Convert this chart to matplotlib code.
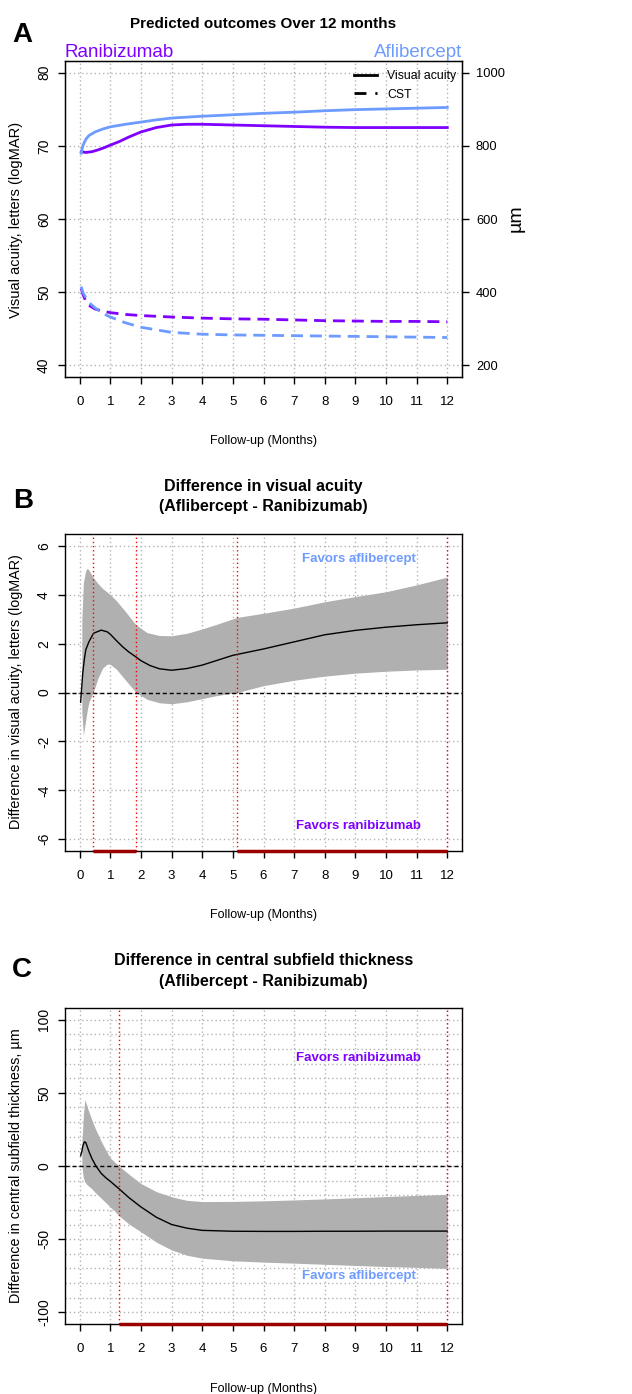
import matplotlib
matplotlib.use("Agg")
import matplotlib.pyplot as plt
from matplotlib.lines import Line2D

plt.rcParams['font.family'] = ['Liberation Sans', 'DejaVu Sans']
plt.rcParams['axes.unicode_minus'] = False

W, H = 632, 1394
PURPLE = '#7F00FF'
BLUE = '#6E9BFF'
GRID = '#B4B4B4'
BAND = '#B0B0B0'

# ---- panel A: predicted outcomes ----
t_rani_va = [0.05, 0.2, 0.4, 0.6, 0.8, 1.0, 1.3, 1.6, 2.0, 2.5, 3.0, 3.5, 4.0, 5, 6, 7, 8, 9, 10, 11, 12]
rani_va = [69.2, 69.1, 69.2, 69.45, 69.75, 70.1, 70.6, 71.2, 71.9, 72.5, 72.85, 72.95, 72.95, 72.85,
           72.75, 72.65, 72.55, 72.5, 72.5, 72.5, 72.5]
t_afli_va = [0.05, 0.1, 0.2, 0.3, 0.5, 0.75, 1.0, 1.5, 2, 2.5, 3, 4, 5, 6, 7, 8, 9, 10, 11, 12]
afli_va = [69.0, 70.0, 70.9, 71.4, 71.9, 72.3, 72.6, 72.95, 73.25, 73.55, 73.8, 74.05, 74.25,
           74.45, 74.6, 74.8, 74.95, 75.05, 75.15, 75.25]
t_cst = [0.05, 0.1, 0.2, 0.3, 0.5, 0.75, 1, 1.5, 2, 3, 4, 5, 6, 7, 8, 9, 10, 11, 12]
rani_cst = [410, 395, 375, 364, 354, 348, 344, 339, 336, 332, 329, 327, 326, 324, 322, 321, 320, 320, 319]
afli_cst = [415, 400, 385, 372, 357, 342, 332, 316, 304, 290, 285, 283, 282, 281, 280, 279, 278, 277, 276]

# ---- panel B: difference in visual acuity ----
t_b = [0.03, 0.06, 0.1, 0.15, 0.2, 0.3, 0.45, 0.7, 0.9, 1.0, 1.2, 1.4, 1.6, 1.84, 2.0, 2.3, 2.6,
       3.0, 3.5, 4.0, 4.5, 5.0, 5.5, 6, 7, 8, 9, 10, 11, 12]
diff_va = [-0.4, 0.1, 0.8, 1.35, 1.75, 2.07, 2.42, 2.55, 2.48, 2.38, 2.12, 1.87, 1.66, 1.45, 1.3,
           1.1, 0.97, 0.91, 0.98, 1.12, 1.32, 1.52, 1.65, 1.78, 2.07, 2.36, 2.54, 2.67, 2.77, 2.85]
t_b_band = [0.07, 0.12, 0.2, 0.25, 0.3, 0.44, 0.6, 0.75, 0.9, 1.0, 1.2, 1.5, 1.84, 2.2, 2.6, 3.0,
            3.5, 4.0, 4.5, 5.14, 6, 7, 8, 9, 10, 11, 12]
va_upper = [3.0, 4.5, 5.0, 5.08, 5.0, 4.7, 4.45, 4.25, 4.1, 4.0, 3.75, 3.3, 2.76, 2.45, 2.33, 2.32,
            2.42, 2.6, 2.8, 3.07, 3.24, 3.45, 3.71, 3.92, 4.12, 4.4, 4.72]
va_lower = [-0.8, -1.75, -1.1, -0.7, -0.4, 0.0, 0.6, 1.0, 1.16, 1.15, 0.95, 0.5, 0.0, -0.28, -0.42,
            -0.46, -0.38, -0.25, -0.12, 0.0, 0.28, 0.5, 0.67, 0.79, 0.87, 0.92, 0.95]
sig_b = [(0.44, 1.84), (5.14, 12)]

# ---- panel C: difference in central subfield thickness ----
t_c = [0.03, 0.07, 0.1, 0.15, 0.2, 0.3, 0.4, 0.53, 0.7, 0.85, 1.0, 1.28, 1.6, 2.0, 2.5, 3.0, 3.5,
       4.0, 5, 6, 7, 8, 9, 10, 11, 12]
diff_cst = [7, 10, 13.5, 16.5, 16, 10, 5, 0, -5, -8, -10.5, -15.5, -21.5, -28, -35, -40, -42.5,
            -44, -44.6, -44.7, -44.7, -44.6, -44.6, -44.5, -44.5, -44.5]
t_c_band = [0.07, 0.12, 0.17, 0.25, 0.37, 0.5, 0.7, 0.85, 1.0, 1.15, 1.28, 1.6, 2.0, 2.5, 3.0, 3.5,
            4, 5, 6, 7, 8, 9, 10, 11, 12]
cst_upper = [15, 35, 45.5, 40, 33, 26, 17, 11, 5.5, 2.5, 0, -5.5, -12, -17.5, -21, -23.5, -24.3,
             -24.2, -23.8, -23.2, -22.5, -21.7, -20.9, -20.1, -19.4]
cst_lower = [0, -8, -11, -13, -15, -18, -22, -25, -28, -31, -34, -39.5, -45, -52, -57.4, -61, -63,
             -64.8, -65.7, -66.4, -67.2, -68, -68.7, -69.3, -70]
sig_c = [(1.28, 12)]

months = list(range(13))


def fx(x):
    return x / W


def fy(y):
    return 1 - y / H


def make_axes(top, bottom):
    return fig.add_axes([fx(65), fy(bottom), fx(462 - 65), (bottom - top) / H])


def style(ax, ymin, ymax, yticks, ygrid):
    ax.set_xlim(-0.48, 12.48)
    pad = (ymax - ymin) * 0.04
    ax.set_ylim(ymin - pad, ymax + pad)
    ax.set_xticks(months)
    ax.set_yticks(yticks)
    ax.set_yticks(ygrid, minor=True)
    ax.tick_params(which='minor', length=0)
    ax.tick_params(axis='both', which='major', direction='out', length=5, width=1)
    ax.tick_params(axis='x', pad=9, labelsize=9.5)
    ax.tick_params(axis='y', pad=5, labelsize=10)
    for lab in ax.get_yticklabels():
        lab.set_rotation(90)
        lab.set_va('center')
    for x in months:
        ax.axvline(x, color=GRID, lw=1, ls=(0, (1, 2)), zorder=0)
    for y in ygrid:
        ax.axhline(y, color=GRID, lw=1, ls=(0, (1, 2)), zorder=0)
    for s in ax.spines.values():
        s.set_linewidth(1)


fig = plt.figure(figsize=(W / 100, H / 100), dpi=100)

# ================= A =================
axA = make_axes(61, 377)
style(axA, 40, 80, [40, 50, 60, 70, 80], [40, 50, 60, 70, 80])
axA.plot(t_rani_va, rani_va, color=PURPLE, lw=2, zorder=3)
axA.plot(t_afli_va, afli_va, color=BLUE, lw=2, zorder=3)
axR = axA.twinx()
axR.set_ylim(200 + (38.4 - 40) * 20, 200 + (81.6 - 40) * 20)
axR.set_yticks([200, 400, 600, 800, 1000])
axR.tick_params(axis='y', direction='out', length=5, width=1, labelsize=9.3, pad=5)
axR.plot(t_cst, rani_cst, color=PURPLE, lw=2, dashes=(4.3, 2.5), zorder=3)
axR.plot(t_cst, afli_cst, color=BLUE, lw=2, dashes=(4.3, 2.5), zorder=3)
handles = [Line2D([], [], color='black', lw=2),
           Line2D([], [], color='black', lw=2, dashes=(4.3, 3.2))]
axR.legend(handles, ['Visual acuity', 'CST'], loc='upper right', bbox_to_anchor=(0.985, 0.972),
           frameon=False, fontsize=8.8, handlelength=1.9, handletextpad=0.8,
           labelspacing=0.55, borderaxespad=0, borderpad=0)

fig.text(fx(22), fy(42), 'A', fontsize=20, fontweight='bold', ha='center', va='baseline')
fig.text(fx(263.5), fy(28.5), 'Predicted outcomes Over 12 months', fontsize=11,
         fontweight='bold', ha='center', va='baseline')
fig.text(fx(65), fy(56.7), 'Ranibizumab', fontsize=13.5, color=PURPLE, ha='left', va='baseline')
fig.text(fx(462), fy(56.7), 'Aflibercept', fontsize=13.5, color=BLUE, ha='right', va='baseline')
fig.text(fx(16), fy(220), 'Visual acuity, letters (logMAR)', fontsize=10.5, rotation=90,
         ha='center', va='center')
fig.text(fx(516), fy(218), 'µm', fontsize=14, rotation=90, ha='center', va='center')
fig.text(fx(263.5), fy(444), 'Follow-up (Months)', fontsize=9, ha='center', va='baseline')


def diff_panel(top, bottom, ymin, ymax, yticks, ygrid, t_band, lo, hi, t_line, line, sig,
               up_text, up_col, up_y, dn_text, dn_col, dn_y):
    ax = make_axes(top, bottom)
    style(ax, ymin, ymax, yticks, ygrid)
    ax.fill_between(t_band, lo, hi, color=BAND, lw=0, zorder=2)
    ax.plot(t_line, line, color='black', lw=1, zorder=3)
    ax.axhline(0, color='black', lw=1, ls=(0, (3, 2)), zorder=3)
    y0 = ax.get_ylim()[0]
    for a, b in sig:
        ax.axvline(a, color='red', lw=1, ls=(0, (1, 2)), zorder=4)
        ax.axvline(b, color='red', lw=1, ls=(0, (1, 2)), zorder=4)
        ax.plot([a, b], [y0, y0], color='#9A0000', lw=2.5, zorder=5, clip_on=False,
                solid_capstyle='butt')
    ax.text(9.1, up_y, up_text, color=up_col, fontsize=9.5, fontweight='bold',
            ha='center', va='center', zorder=6)
    ax.text(9.1, dn_y, dn_text, color=dn_col, fontsize=9.5, fontweight='bold',
            ha='center', va='center', zorder=6)
    return ax


# ================= B =================
diff_panel(534, 851, -6, 6, [-6, -4, -2, 0, 2, 4, 6], [-6, -4, -2, 0, 2, 4, 6],
           t_b_band, va_lower, va_upper, t_b, diff_va, sig_b,
           'Favors aflibercept', BLUE, 5.45, 'Favors ranibizumab', PURPLE, -5.45)
fig.text(fx(23), fy(508), 'B', fontsize=20, fontweight='bold', ha='center', va='baseline')
fig.text(fx(263.5), fy(491.5), 'Difference in visual acuity', fontsize=11.5, fontweight='bold',
         ha='center', va='baseline')
fig.text(fx(263.5), fy(511), '(Aflibercept - Ranibizumab)', fontsize=11.5, fontweight='bold',
         ha='center', va='baseline')
fig.text(fx(16), fy(692), 'Difference in visual acuity, letters (logMAR)', fontsize=10.4,
         rotation=90, ha='center', va='center')
fig.text(fx(263.5), fy(918), 'Follow-up (Months)', fontsize=9, ha='center', va='baseline')

# ================= C =================
diff_panel(1008, 1324, -100, 100, [-100, -50, 0, 50, 100], list(range(-100, 101, 10)),
           t_c_band, cst_lower, cst_upper, t_c, diff_cst, sig_c,
           'Favors ranibizumab', PURPLE, 73.8, 'Favors aflibercept', BLUE, -75)
fig.text(fx(22), fy(977), 'C', fontsize=20, fontweight='bold', ha='center', va='baseline')
fig.text(fx(263.5), fy(965), 'Difference in central subfield thickness', fontsize=11.5,
         fontweight='bold', ha='center', va='baseline')
fig.text(fx(263.5), fy(986), '(Aflibercept - Ranibizumab)', fontsize=11.5, fontweight='bold',
         ha='center', va='baseline')
fig.text(fx(16), fy(1166), 'Difference in central subfield thickness, µm', fontsize=10.4,
         rotation=90, ha='center', va='center')
fig.text(fx(263.5), fy(1392), 'Follow-up (Months)', fontsize=9, ha='center', va='baseline')

fig.savefig('out.png', dpi=100)
